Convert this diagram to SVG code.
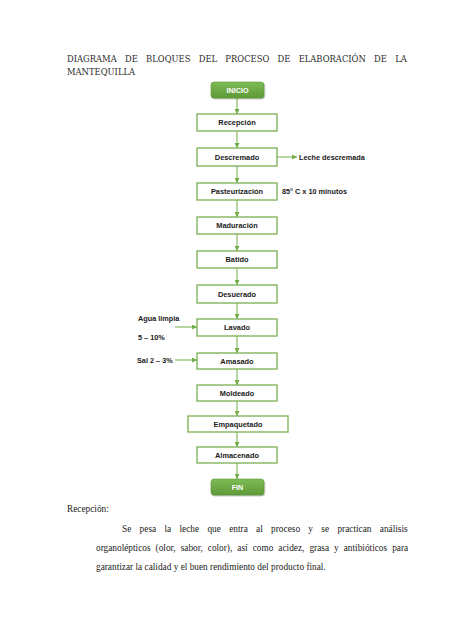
<svg xmlns="http://www.w3.org/2000/svg" width="474" height="632" viewBox="0 0 474 632">
<defs>
<linearGradient id="gr" x1="0" y1="0" x2="0" y2="1">
<stop offset="0" stop-color="#7dbb55"/>
<stop offset="1" stop-color="#5e9a38"/>
</linearGradient>
<marker id="ah" markerUnits="userSpaceOnUse" markerWidth="5" markerHeight="5" refX="5" refY="2.5" orient="auto">
<path d="M0,0 L5,2.5 L0,5 z" fill="#70ad47"/>
</marker>
<filter id="sh" x="-20%" y="-30%" width="140%" height="170%">
<feDropShadow dx="0.6" dy="1" stdDeviation="0.7" flood-color="#000" flood-opacity="0.35"/>
</filter>
</defs>
<style>
.box{fill:#fff;stroke:#7aae52;stroke-width:1.3}
.term{fill:url(#gr);stroke:#5e9a38;stroke-width:0.6}
.lbl{font-family:"Liberation Sans",Arial,sans-serif;font-weight:bold;font-size:7.4px;fill:#1a1a1a;text-anchor:middle}
.tl{font-family:"Liberation Sans",Arial,sans-serif;font-weight:bold;font-size:7.2px;fill:#fff;text-anchor:middle}
.side{font-family:"Liberation Sans",Arial,sans-serif;font-weight:bold;font-size:7.3px;fill:#1a1a1a}
.ttl{font-family:"DejaVu Serif","Liberation Serif",serif;font-size:8.4px;fill:#2a2a2a}
.body{font-family:"Liberation Serif","Times New Roman",serif;font-size:9.3px;fill:#222}
.cn{stroke:#70ad47;stroke-width:1;fill:none;marker-end:url(#ah)}
</style>
<rect width="474" height="632" fill="#fff"/>
<g id="title">
<text class="ttl" x="67" y="62" word-spacing="5.6">DIAGRAMA DE BLOQUES DEL PROCESO DE ELABORACIÓN DE LA</text>
<text class="ttl" x="67" y="75">MANTEQUILLA</text>
</g>
<g id="connectors">
<line class="cn" x1="237" y1="98" x2="237" y2="114"/>
<line class="cn" x1="237" y1="131" x2="237" y2="148"/>
<line class="cn" x1="237" y1="166" x2="237" y2="183"/>
<line class="cn" x1="237" y1="200" x2="237" y2="217"/>
<line class="cn" x1="237" y1="234" x2="237" y2="251"/>
<line class="cn" x1="237" y1="268" x2="237" y2="285"/>
<line class="cn" x1="237" y1="303" x2="237" y2="319"/>
<line class="cn" x1="237" y1="336" x2="237" y2="353"/>
<line class="cn" x1="237" y1="369" x2="237" y2="385"/>
<line class="cn" x1="237" y1="401" x2="237" y2="416"/>
<line class="cn" x1="237" y1="432" x2="237" y2="447"/>
<line class="cn" x1="237" y1="463" x2="237" y2="479"/>
<line class="cn" x1="277" y1="157" x2="297" y2="157"/>
<line class="cn" x1="175" y1="327" x2="197" y2="327"/>
<line class="cn" x1="175" y1="360" x2="197" y2="360"/>
</g>
<g id="inicio"><rect class="term" x="211" y="82" width="53" height="16" rx="3" filter="url(#sh)"/><text class="tl" x="237.5" y="92.6">INICIO</text></g>
<g id="recepcion"><rect class="box" x="197" y="114" width="80" height="17"/><text class="lbl" x="237" y="125">Recepción</text></g>
<g id="descremado"><rect class="box" x="197" y="148" width="80" height="18"/><text class="lbl" x="237" y="159.5">Descremado</text></g>
<g id="pasteurizacion"><rect class="box" x="197" y="183" width="80" height="17"/><text class="lbl" x="237" y="194">Pasteurización</text></g>
<g id="maduracion"><rect class="box" x="197" y="217" width="80" height="17"/><text class="lbl" x="237" y="228">Maduración</text></g>
<g id="batido"><rect class="box" x="197" y="251" width="80" height="17"/><text class="lbl" x="237" y="262">Batido</text></g>
<g id="desuerado"><rect class="box" x="197" y="285" width="80" height="18"/><text class="lbl" x="237" y="296.5">Desuerado</text></g>
<g id="lavado"><rect class="box" x="197" y="319" width="80" height="17"/><text class="lbl" x="237" y="330">Lavado</text></g>
<g id="amasado"><rect class="box" x="197" y="353" width="80" height="16"/><text class="lbl" x="237" y="363.5">Amasado</text></g>
<g id="moldeado"><rect class="box" x="197" y="385" width="80" height="16"/><text class="lbl" x="237" y="395.5">Moldeado</text></g>
<g id="empaquetado"><rect class="box" x="188" y="416" width="100" height="16"/><text class="lbl" x="238" y="426.5">Empaquetado</text></g>
<g id="almacenado"><rect class="box" x="197" y="447" width="80" height="16"/><text class="lbl" x="237" y="457.5">Almacenado</text></g>
<g id="fin"><rect class="term" x="211" y="479" width="53" height="16" rx="3" filter="url(#sh)"/><text class="tl" x="237.5" y="489.6">FIN</text></g>
<g id="side-labels">
<text class="side" x="299" y="160">Leche descremada</text>
<text class="side" x="282" y="194">85° C x 10 minutos</text>
<text class="side" x="138" y="321">Agua limpia</text>
<text class="side" x="138" y="340">5 – 10%</text>
<text class="side" x="137" y="362.5">Sal 2 – 3%</text>
</g>
<g id="body-text">
<text class="body" x="67" y="512">Recepción:</text>
<text class="body" x="122" y="532" word-spacing="6">Se pesa la leche que entra al proceso y se practican análisis</text>
<text class="body" x="96" y="551" word-spacing="2.7">organolépticos (olor, sabor, color), así como acidez, grasa y antibióticos para</text>
<text class="body" x="96" y="570">garantizar la calidad y el buen rendimiento del producto final.</text>
</g>
</svg>
